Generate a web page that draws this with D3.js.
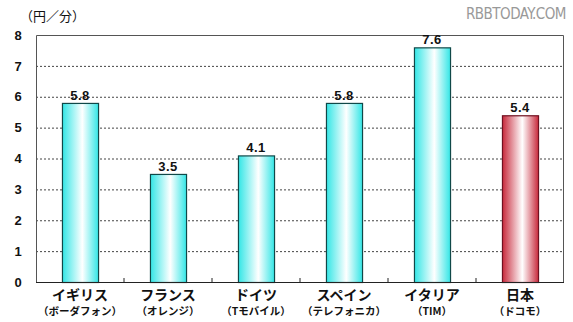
<!DOCTYPE html>
<html>
<head>
<meta charset="utf-8">
<script src="https://cdn.jsdelivr.net/npm/d3@7"></script>
<style>
  body { margin: 0; background: #fff; }
  svg { display: block; }
</style>
</head>
<body>
<div id="chart"></div>
<script>
// carrier rates, yen per minute
var countries = ["イギリス", "フランス", "ドイツ", "スペイン", "イタリア", "日本"];
var carriers = ["（ボーダフォン）", "（オレンジ）", "（Tモバイル）", "（テレフォニカ）", "（TIM）", "（ドコモ）"];
var rates = [5.8, 3.5, 4.1, 5.8, 7.6, 5.4];
var yTicks = [0, 1, 2, 3, 4, 5, 6, 7, 8];

var W = 573, H = 322;
// plot edges (note: "top" is reserved on window, so prefix them)
var pLeft = 36, pRight = 564, pTop = 35, pBottom = 282;

var svg = d3.select("#chart").append("svg")
    .attr("width", W)
    .attr("height", H);

var defs = svg.append("defs");
function grad(id, edge, mid) {
    var g = defs.append("linearGradient").attr("id", id)
        .attr("x1", "0%").attr("x2", "100%").attr("y1", "0%").attr("y2", "0%");
    g.append("stop").attr("offset", "0%").attr("stop-color", edge);
    g.append("stop").attr("offset", "55%").attr("stop-color", mid);
    g.append("stop").attr("offset", "100%").attr("stop-color", edge);
}
grad("cyanGrad", "#33e6e6", "#ffffff");
grad("redGrad", "#c82a3c", "#ffffff");

var x = d3.scaleBand()
    .domain(countries)
    .range([pLeft, pRight])
    .paddingInner(0.59)
    .paddingOuter(0.295);

var y = d3.scaleLinear()
    .domain([0, 8])
    .range([pBottom, pTop]);

// grid lines
svg.append("g")
    .selectAll("line")
    .data(yTicks.filter(function(d) { return d > 0 && d < 8; }))
    .enter().append("line")
    .attr("x1", pLeft).attr("x2", pRight)
    .attr("y1", function(d) { return y(d) + 0.5; })
    .attr("y2", function(d) { return y(d) + 0.5; })
    .attr("stroke", "#444")
    .attr("stroke-width", 1)
    .attr("stroke-dasharray", "2,2");

// frame
svg.append("path")
    .attr("d", "M" + (pLeft + 0.5) + "," + pBottom + "V" + (pTop + 0.5) + "H" + (pRight - 0.5) + "V" + pBottom)
    .attr("fill", "none")
    .attr("stroke", "#555")
    .attr("stroke-width", 1);

// y labels
svg.append("g")
    .selectAll("text")
    .data(yTicks)
    .enter().append("text")
    .attr("x", 18)
    .attr("y", function(d) { return y(d); })
    .attr("dy", "0.36em")
    .attr("text-anchor", "middle")
    .attr("font-family", "Arial, 'Liberation Sans', sans-serif")
    .attr("font-weight", "bold")
    .attr("font-size", "13px")
    .attr("fill", "#111")
    .text(function(d) { return d; });

// bars
svg.append("g")
    .selectAll("rect")
    .data(rates)
    .enter().append("rect")
    .attr("x", function(d, i) { return x(countries[i]) + 0.5; })
    .attr("y", function(d) { return y(d) + 0.5; })
    .attr("width", x.bandwidth())
    .attr("height", function(d) { return pBottom - y(d); })
    .attr("fill", function(d, i) { return i === 5 ? "url(#redGrad)" : "url(#cyanGrad)"; })
    .attr("stroke", function(d, i) { return i === 5 ? "#701020" : "#104848"; })
    .attr("stroke-width", 1.2);

// x axis line and ticks
svg.append("line")
    .attr("x1", pLeft).attr("x2", pRight)
    .attr("y1", pBottom + 0.5).attr("y2", pBottom + 0.5)
    .attr("stroke", "#222");
svg.append("g")
    .selectAll("line")
    .data(d3.range(1, countries.length))
    .enter().append("line")
    .attr("x1", function(i) { return pLeft + i * (pRight - pLeft) / countries.length; })
    .attr("x2", function(i) { return pLeft + i * (pRight - pLeft) / countries.length; })
    .attr("y1", pBottom).attr("y2", pBottom - 4)
    .attr("stroke", "#222");

// value labels
svg.append("g")
    .selectAll("text")
    .data(rates)
    .enter().append("text")
    .attr("x", function(d, i) { return x(countries[i]) + x.bandwidth() / 2; })
    .attr("y", function(d) { return y(d) - 3; })
    .attr("text-anchor", "middle")
    .attr("font-family", "Arial, 'Liberation Sans', sans-serif")
    .attr("font-weight", "bold")
    .attr("font-size", "13px")
    .attr("letter-spacing", "0.5px")
    .attr("fill", "#111")
    .text(function(d) { return d.toFixed(1); });

// category labels
var cat = svg.append("g")
    .attr("font-family", "'Noto Sans CJK JP', sans-serif")
    .attr("font-weight", "bold")
    .attr("text-anchor", "middle")
    .attr("fill", "#111");
cat.selectAll("text.main")
    .data(countries)
    .enter().append("text")
    .attr("class", "main")
    .attr("x", function(d) { return x(d) + x.bandwidth() / 2; })
    .attr("y", 300)
    .attr("font-size", "14px")
    .text(function(d) { return d; });
cat.selectAll("text.sub")
    .data(carriers)
    .enter().append("text")
    .attr("class", "sub")
    .attr("x", function(d, i) { return x(countries[i]) + x.bandwidth() / 2; })
    .attr("y", 315)
    .attr("font-size", "10.5px")
    .text(function(d) { return d; });

// unit
svg.append("text")
    .attr("x", 20)
    .attr("y", 21)
    .attr("font-family", "'Noto Sans CJK JP', sans-serif")
    .attr("font-size", "13px")
    .attr("fill", "#111")
    .text("（円／分）");

// watermark
svg.append("text")
    .attr("x", 566)
    .attr("y", 19)
    .attr("text-anchor", "end")
    .attr("font-family", "'DejaVu Sans Condensed', 'DejaVu Sans', sans-serif")
    .attr("font-size", "15px")
    .attr("fill", "#999")
    .attr("letter-spacing", "-0.5px")
    .text("RBBTODAY.COM");
</script>
</body>
</html>
